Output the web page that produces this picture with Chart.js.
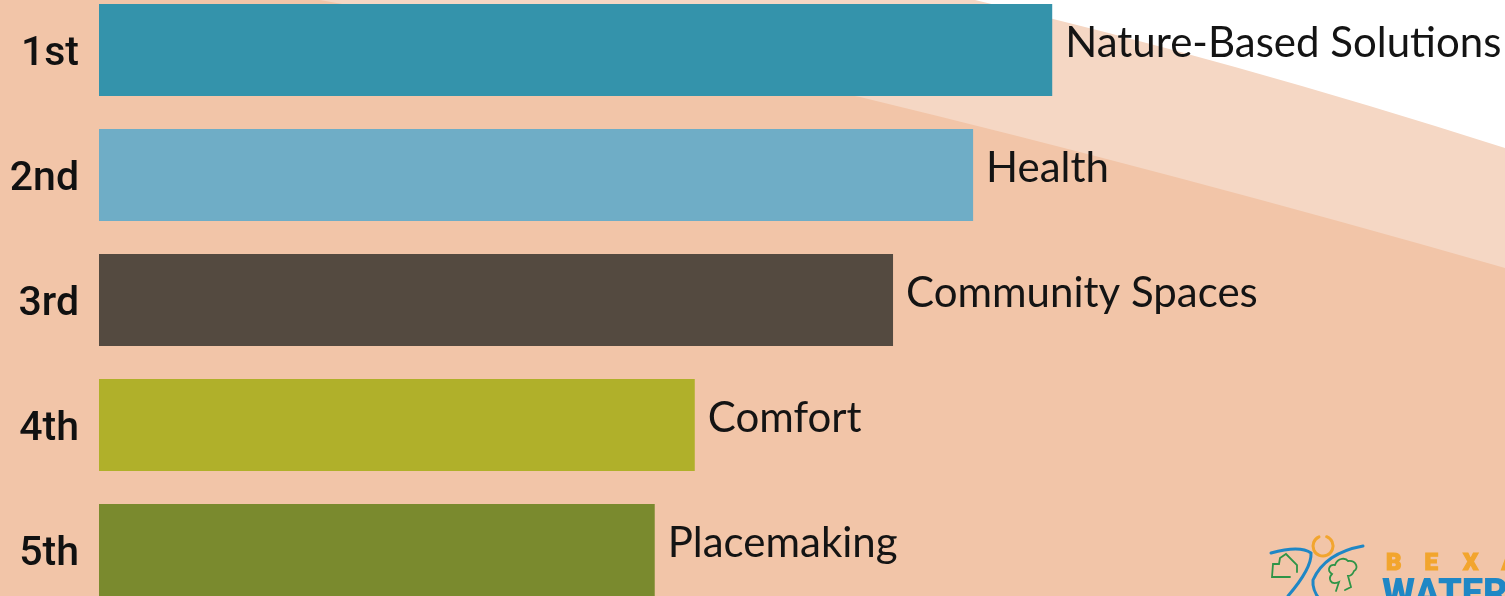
<!DOCTYPE html>
<html>
<head>
<meta charset="utf-8">
<style>
html,body{margin:0;padding:0;width:1505px;height:596px;overflow:hidden;background:#fff}
#wrap{position:absolute;left:0;top:-13px;width:1505px;height:640px}
canvas{display:block}
</style>
<script src="https://cdn.jsdelivr.net/npm/chart.js@4/dist/chart.umd.min.js"></script>
</head>
<body>
<div id="wrap"><canvas id="c" width="1505" height="640"></canvas></div>
<script>
const ranks = ["1st","2nd","3rd","4th","5th"];
const themes = ["Nature-Based Solutions","Health","Community Spaces","Comfort","Placemaking"];
const scores = [100,91.7,83.3,62.5,58.3];
const barColors = ["#3493AB","#6FADC6","#544A40","#B0B02A","#7A8A2E"];

const OFFSET = 13;
const backdrop = {
  id:"backdrop",
  beforeDraw(chart){
    const c = chart.ctx;
    c.save();
    c.translate(0,OFFSET);
    c.fillStyle="#ffffff"; c.fillRect(0,-OFFSET,1505,640);
    c.fillStyle="#F5D7C4";
    c.beginPath(); c.moveTo(0,-OFFSET); c.lineTo(960,-OFFSET); c.lineTo(975,0);
    c.quadraticCurveTo(1230,60,1505,148); c.lineTo(1505,640); c.lineTo(0,640); c.closePath(); c.fill();
    c.fillStyle="#F2C5A8";
    c.beginPath(); c.moveTo(0,-OFFSET); c.lineTo(260,-OFFSET); c.lineTo(320,0);
    c.lineTo(860,97); c.quadraticCurveTo(1170,172,1505,268); c.lineTo(1505,640); c.lineTo(0,640); c.closePath(); c.fill();
    c.restore();
  }
};
const barLabels = {
  id:"barLabels",
  afterDatasetsDraw(chart){
    const c = chart.ctx, meta = chart.getDatasetMeta(0);
    c.save();
    c.fillStyle="#141414"; c.textBaseline="middle"; c.textAlign="left";
    c.font='400 42px Lato';
    meta.data.forEach((bar,i)=>{ c.fillText(themes[i], bar.x+13, bar.y-7); });
    c.restore();
  }
};
const logo = {
  id:"logo",
  afterDraw(chart){
    const c = chart.ctx;
    c.save();
    c.translate(0,OFFSET);
    c.lineCap="round";
    c.strokeStyle="#F2A52E"; c.lineWidth=3;
    c.beginPath(); c.arc(1323,546,10,-1.2,4.3); c.stroke();
    c.strokeStyle="#1F87C5"; c.lineWidth=3;
    c.beginPath(); c.moveTo(1271,553); c.quadraticCurveTo(1300,545,1311,553); c.quadraticCurveTo(1312,568,1288,596); c.stroke();
    c.beginPath(); c.moveTo(1363,546); c.quadraticCurveTo(1325,553,1313,580); c.quadraticCurveTo(1312,590,1320,600); c.stroke();
    c.strokeStyle="#2E9447"; c.lineWidth=1.8;
    c.beginPath(); c.moveTo(1290,577); c.lineTo(1272,577); c.lineTo(1273,564); c.lineTo(1279,564); c.lineTo(1280,558);
    c.lineTo(1286,554); c.lineTo(1297,565); c.lineTo(1297,572); c.stroke();
    c.beginPath(); c.moveTo(1336,591); c.lineTo(1339,582); c.bezierCurveTo(1330,586,1328,578,1332,574);
    c.bezierCurveTo(1326,570,1330,564,1335,565); c.bezierCurveTo(1338,557,1346,558,1348,561);
    c.bezierCurveTo(1356,560,1359,568,1354,571); c.bezierCurveTo(1352,576,1349,576,1348,576);
    c.lineTo(1351,587); c.lineTo(1345,590); c.stroke();
    c.textBaseline="alphabetic"; c.textAlign="left";
    c.fillStyle="#F2A52E"; c.strokeStyle="#F2A52E"; c.lineWidth=1.2; c.font='900 24px Roboto';
    ["B","E","X","A"].forEach((s,i)=>{c.fillText(s,1386+i*38.5,570);c.strokeText(s,1386+i*38.5,570);});
    c.fillStyle="#1F87C5"; c.font='900 38px Roboto';
    c.fillText("WATER",1382,606);
    c.restore();
  }
};
new Chart(document.getElementById("c"),{
  type:"bar",
  data:{labels:ranks,datasets:[{data:scores,backgroundColor:barColors,borderWidth:0,categoryPercentage:0.736,barPercentage:1}]},
  options:{
    indexAxis:"y",responsive:false,animation:false,
    layout:{padding:{top:0.5,bottom:14.5,left:0,right:0}},
    plugins:{legend:{display:false},tooltip:{enabled:false}},
    scales:{
      x:{display:false,min:0,max:147.5},
      y:{
        afterFit(s){s.width=99;s.paddingTop=0;s.paddingBottom=0;},
        grid:{display:false,drawTicks:false},border:{display:false},
        ticks:{padding:20,labelOffset:5,color:"#111",font:{family:"Roboto",size:41,weight:"500"}}
      }
    }
  },
  plugins:[backdrop,barLabels,logo]
});
</script>
</body>
</html>
